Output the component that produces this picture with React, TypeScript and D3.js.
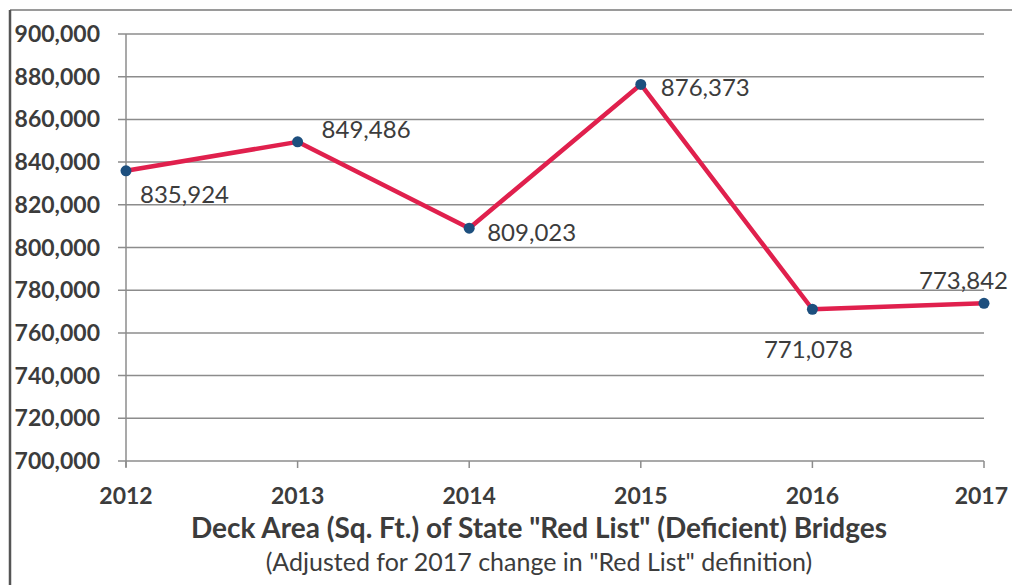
import React, { useEffect, useRef } from 'react'
import * as d3 from 'd3'

const years = ['2012', '2013', '2014', '2015', '2016', '2017']
const deckArea = [835924, 849486, 809023, 876373, 771078, 773842]
const yTicks = [700000, 720000, 740000, 760000, 780000, 800000, 820000, 840000, 860000, 880000, 900000]
// label placement relative to the point: dx, dy, anchor
const labelPos: [number, number, string][] = [
  [14, 32, 'start'],
  [24, -4, 'start'],
  [18, 13, 'start'],
  [20, 12, 'start'],
  [-4, 49, 'middle'],
  [24, -14, 'end'],
]

export default function App() {
  const ref = useRef<SVGSVGElement | null>(null)

  useEffect(() => {
    if (!ref.current) return
    const svg = d3.select(ref.current)
    svg.selectAll('*').remove()

    const width = 1012, height = 585
    const font = 'Lato, "Open Sans", sans-serif'
    const textColor = '#3c3c3c'

    svg.attr('width', width).attr('height', height).style('font-family', font)
    svg.append('rect').attr('width', width).attr('height', height).attr('fill', '#fff')

    // chart frame
    svg.append('path').attr('d', `M${width},10 L10,10`)
      .attr('fill', 'none').attr('stroke', '#9a9a9a').attr('stroke-width', 2)
    svg.append('path').attr('d', `M10,10 L10,${height}`)
      .attr('fill', 'none').attr('stroke', '#555').attr('stroke-width', 2.5)

    const x = d3.scalePoint().domain(years).range([126, 984])
    const y = d3.scaleLinear().domain([700000, 900000]).range([461, 34])

    const grid = svg.append('g')
    grid.selectAll('line').data(yTicks).enter().append('line')
      .attr('x1', 118).attr('x2', 984)
      .attr('y1', d => y(d)).attr('y2', d => y(d))
      .attr('stroke', '#8c8c8c').attr('stroke-width', 1.5)

    // y axis line
    svg.append('line').attr('x1', 126).attr('x2', 126).attr('y1', y(900000)).attr('y2', y(700000) + 6)
      .attr('stroke', '#8c8c8c').attr('stroke-width', 1.5)

    // x ticks
    svg.append('g').selectAll('line').data(years).enter().append('line')
      .attr('x1', d => x(d)!).attr('x2', d => x(d)!)
      .attr('y1', y(700000)).attr('y2', y(700000) + 7)
      .attr('stroke', '#8c8c8c').attr('stroke-width', 1.5)

    svg.append('g').selectAll('text').data(yTicks).enter().append('text')
      .attr('x', 100).attr('y', d => y(d) + 8)
      .attr('text-anchor', 'end').attr('font-size', 23).attr('font-weight', 700)
      .attr('fill', textColor)
      .text(d => d3.format(',')(d))

    svg.append('g').selectAll('text').data(years).enter().append('text')
      .attr('x', (d, i) => i === years.length - 1 ? 1008 : x(d)!)
      .attr('y', 504)
      .attr('text-anchor', (d, i) => i === years.length - 1 ? 'end' : 'middle')
      .attr('font-size', 23).attr('font-weight', 700)
      .attr('fill', textColor)
      .text(d => d)

    const line = d3.line<number>().x((d, i) => x(years[i])!).y(d => y(d))
    svg.append('path').datum(deckArea).attr('d', line)
      .attr('fill', 'none').attr('stroke', '#e0204d').attr('stroke-width', 4.5)
      .attr('stroke-linejoin', 'round')

    svg.append('g').selectAll('circle').data(deckArea).enter().append('circle')
      .attr('cx', (d, i) => x(years[i])!).attr('cy', d => y(d)).attr('r', 5.5)
      .attr('fill', '#1d4f7e')

    svg.append('g').selectAll('text').data(deckArea).enter().append('text')
      .attr('x', (d, i) => x(years[i])! + labelPos[i][0])
      .attr('y', (d, i) => y(d) + labelPos[i][1])
      .attr('text-anchor', (d, i) => labelPos[i][2])
      .attr('font-size', 24).attr('fill', textColor)
      .text(d => d3.format(',')(d))

    svg.append('text').attr('x', 539).attr('y', 538).attr('text-anchor', 'middle')
      .attr('font-size', 28).attr('font-weight', 700).attr('fill', textColor)
      .text('Deck Area (Sq. Ft.) of State "Red List" (Deficient) Bridges')

    svg.append('text').attr('x', 539).attr('y', 571).attr('text-anchor', 'middle')
      .attr('font-size', 25).attr('fill', textColor)
      .text('(Adjusted for 2017 change in "Red List" definition)')
  }, [])

  return (
    <div style={{ position: 'absolute', left: 0, top: 0 }}>
      <svg ref={ref} style={{ display: 'block' }} />
    </div>
  )
}
